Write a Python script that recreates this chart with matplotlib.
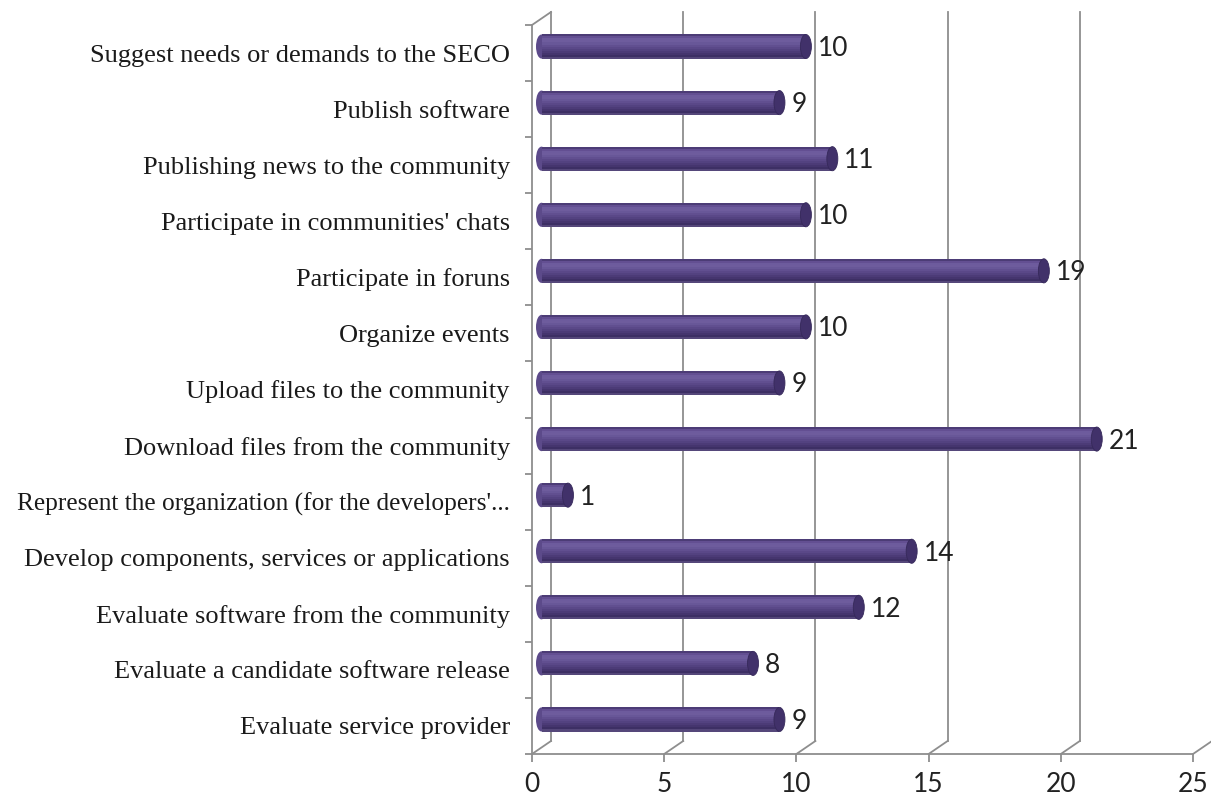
import matplotlib
matplotlib.use("Agg")
import matplotlib.pyplot as plt
from matplotlib.patches import Ellipse
from matplotlib.transforms import ScaledTranslation

# ------------------------------------------------------------------------------
# Data: activities (top to bottom) and number of answers
# ------------------------------------------------------------------------------
activities = [
    "Suggest needs or demands to the SECO",
    "Publish software",
    "Publishing news to the community",
    "Participate in communities' chats",
    "Participate in foruns",
    "Organize events",
    "Upload files to the community",
    "Download files from the community",
    "Represent the organization (for the developers'...",
    "Develop components, services or applications",
    "Evaluate software from the community",
    "Evaluate a candidate software release",
    "Evaluate service provider",
]
counts = [10, 9, 11, 10, 19, 10, 9, 21, 1, 14, 12, 8, 9]
x_ticks = [0, 5, 10, 15, 20, 25]

# ------------------------------------------------------------------------------
# Figure / front plane of the pseudo-3D box
# ------------------------------------------------------------------------------
W, H, DPI = 1211, 800, 100
fig = plt.figure(figsize=(W / DPI, H / DPI), dpi=DPI)
fig.patch.set_facecolor("white")

left_px, right_px, top_px, bottom_px = 532, 1193, 25, 754
ax = fig.add_axes([left_px / W, (H - bottom_px) / H,
                   (right_px - left_px) / W, (bottom_px - top_px) / H])
ax.set_xlim(0, 25)
ax.set_ylim(-0.5, len(activities) - 0.5)
ax.patch.set_alpha(0)

grid_col = "#8e8e8e"
depth_x, depth_y = 19, 13          # depth of the box, in pixels

# depth offsets converted to data units for the wall lines
px_x = 25 / (right_px - left_px)
px_y = len(activities) / (bottom_px - top_px)
dx, dy = depth_x * px_x, depth_y * px_y
y0, y1 = -0.5, len(activities) - 0.5

# back wall gridlines and floor slants
for v in x_ticks:
    ax.plot([v + dx, v + dx], [y0 + dy, y1 + dy], color=grid_col, lw=1.3,
            clip_on=False, zorder=1)
    ax.plot([v, v + dx], [y0, y0 + dy], color=grid_col, lw=1.3,
            clip_on=False, zorder=1)
ax.plot([0, dx], [y1, y1 + dy], color=grid_col, lw=1.3, clip_on=False, zorder=1)

# bars sit halfway into the box
mid = ax.transData + ScaledTranslation(depth_x / 2 / DPI, depth_y / 2 / DPI,
                                       fig.dpi_scale_trans)

ypos = list(range(len(activities)))[::-1]
bar_h = 0.43
# cylinder shading, top strip to bottom strip
shades = ["#4c3c76", "#634f92", "#6d5b9d", "#6e5c9d", "#685798", "#614f90",
          "#5a4888", "#534280", "#4c3b77", "#45356e", "#3d2f64", "#55477a"]
strip = bar_h / len(shades)
cap_w = 11 * px_x

for y, v in zip(ypos, counts):
    # rounded back end and darker front cap
    ax.add_patch(Ellipse((0, y), cap_w, bar_h, facecolor="#5c4a8a",
                         edgecolor="none", transform=mid, zorder=3))
    ax.add_patch(Ellipse((v, y), cap_w, bar_h, facecolor="#41316a",
                         edgecolor="#36295a", lw=0.6, transform=mid, zorder=5))

for k, c in enumerate(shades):
    yc = [y + bar_h / 2 - strip * (k + 0.5) for y in ypos]
    ax.barh(yc, counts, height=strip * 1.02, color=c, linewidth=0,
            transform=mid, zorder=4)

for y, v in zip(ypos, counts):
    ax.text(v, y, str(v),
            transform=mid + ScaledTranslation(0.12, -0.02, fig.dpi_scale_trans),
            ha="left", va="center", fontsize=19, family="Lato", color="#222222",
            zorder=6)

# front axes
for side in ["top", "right"]:
    ax.spines[side].set_visible(False)
for side in ["left", "bottom"]:
    ax.spines[side].set_color(grid_col)
    ax.spines[side].set_linewidth(1.3)

ax.set_xticks(x_ticks)
ax.set_xticklabels([str(t) for t in x_ticks], family="Lato", fontsize=19,
                   color="#222222")
ax.tick_params(axis="x", length=6, width=1.3, color=grid_col, pad=7)

ax.set_yticks(ypos)
ax.set_yticklabels(activities, family="Liberation Serif", fontsize=19,
                   color="#1a1a1a")
ax.tick_params(axis="y", which="major", length=0, pad=16)
# the long truncated label is set a bit tighter so it fits the figure
for lbl in ax.get_yticklabels():
    if lbl.get_text().endswith("..."):
        lbl.set_fontsize(18.3)
ax.set_yticks([y - 0.5 for y in range(len(activities) + 1)], minor=True)
ax.tick_params(axis="y", which="minor", length=5, width=1.3, color=grid_col)

fig.savefig("out.png", dpi=DPI, facecolor="white")
